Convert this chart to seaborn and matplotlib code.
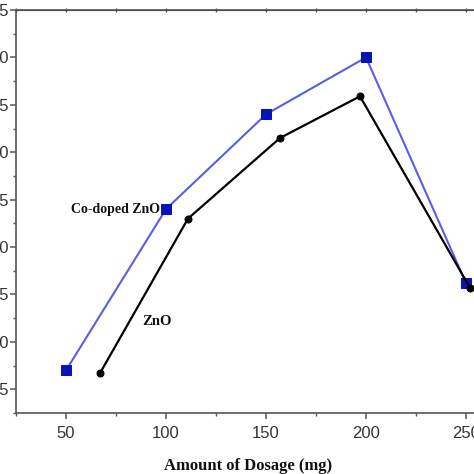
import matplotlib
matplotlib.use("Agg")
import matplotlib.pyplot as plt
from matplotlib.ticker import MultipleLocator
import seaborn as sns

# data
codoped_dose = [50, 100, 150, 200, 250]
codoped_val = [47.0, 64.0, 74.0, 80.0, 56.2]
zno_dose = [67, 111, 157, 197, 252]
zno_val = [46.7, 63.0, 71.5, 75.9, 55.7]

sns.set_style("ticks")
plt.rcParams['font.family'] = ['Liberation Sans', 'DejaVu Sans']

fig = plt.figure(figsize=(4.74, 4.74), dpi=100)
# axes run past the right edge of the picture, like the cropped original
ax = fig.add_axes([16 / 474, 61 / 474, 500 / 474, 403 / 474])

sns.lineplot(x=codoped_dose, y=codoped_val, ax=ax, sort=False,
             color="#5a5ee0", linewidth=1.5, marker="s", markersize=6.5,
             markerfacecolor="#0a14b4", markeredgecolor="#0a14b4")
sns.lineplot(x=zno_dose, y=zno_val, ax=ax, sort=False,
             color="black", linewidth=1.6, marker="o", markersize=5,
             markerfacecolor="black", markeredgecolor="black")

ax.set_xlim(25, 275)
ax.set_ylim(42.5, 85)
ax.xaxis.set_major_locator(MultipleLocator(50))
ax.xaxis.set_minor_locator(MultipleLocator(25))
ax.yaxis.set_major_locator(MultipleLocator(5))
ax.yaxis.set_minor_locator(MultipleLocator(2.5))

spine_col = "#555555"
for side in ['left', 'bottom', 'top', 'right']:
    ax.spines[side].set_visible(True)
    ax.spines[side].set_color(spine_col)
    ax.spines[side].set_linewidth(1.2)

ax.tick_params(which='major', direction='out', length=4, width=1.1,
               color=spine_col, labelsize=12, labelcolor="#333333")
ax.tick_params(which='minor', direction='out', length=2.5, width=1.0,
               color=spine_col)
ax.tick_params(axis='x', which='major', pad=5)
ax.tick_params(axis='y', which='major', pad=1)
# small marks on the top spine
top = ax.secondary_xaxis('top')
top.xaxis.set_major_locator(MultipleLocator(25))
top.tick_params(which='both', direction='inout', length=2.5, width=1.0,
                color=spine_col, labeltop=False)
ax.tick_params(which='both', top=False)

ax.set_xlabel("Amount of Dosage (mg)", family=['Liberation Serif'],
              fontweight='bold', fontsize=12, color="#111111")
ax.xaxis.set_label_coords(232 / 500, -0.112)
ax.set_ylabel("")

ax.text(97, 64, "Co-doped ZnO", family=['Liberation Serif'], fontweight='bold',
        fontsize=10, ha='right', va='center', color="#111111")
ax.text(95.5, 52.1, "ZnO", family=['Liberation Serif'], fontweight='bold',
        fontsize=10.5, ha='center', va='center', color="#111111")

fig.savefig("out.png", dpi=100)
